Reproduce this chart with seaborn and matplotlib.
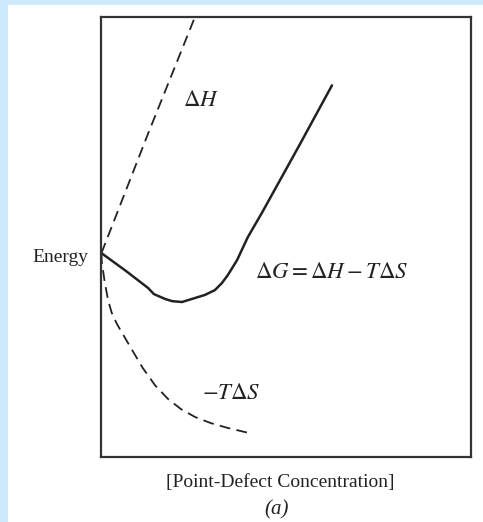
# Free energy of point-defect formation (schematic)
import numpy as np
import pandas as pd
import seaborn as sns
import matplotlib.pyplot as plt
from matplotlib.patches import Rectangle

# Curve data (axes run 0..10 in both directions)
dh_x = [0.00, 1.27, 2.53]
dh_y = [4.63, 7.36, 9.99]

dg_x = [0.00, 0.64, 1.26, 1.42, 1.72, 1.91, 2.18, 2.53, 2.80, 3.07, 3.26, 3.42, 3.67, 3.96, 4.34, 5.37, 6.24]
dg_y = [4.63, 4.24, 3.84, 3.70, 3.59, 3.54, 3.52, 3.61, 3.68, 3.79, 3.95, 4.13, 4.47, 4.99, 5.54, 7.10, 8.44]

ts_x = [0.00, 0.01, 0.09, 0.18, 0.28, 0.42, 0.58, 0.83, 1.12, 1.45, 1.80, 2.15, 2.53, 2.96, 3.42, 4.02]
ts_y = [4.63, 4.43, 3.97, 3.56, 3.27, 3.02, 2.79, 2.43, 2.02, 1.63, 1.32, 1.09, 0.91, 0.77, 0.66, 0.54]

x_label = "[Point-Defect Concentration]"
y_label = "Energy"
panel_label = "(a)"

sns.set_style("white")
plt.rcParams['font.family'] = ['Liberation Serif', 'DejaVu Serif']
plt.rcParams['mathtext.fontset'] = 'stix'

ink = "#222222"

fig = plt.figure(figsize=(4.83, 5.22), dpi=100)
fig.patch.set_facecolor("#cdeafc")
fig.patches.append(Rectangle((8 / 483, 0), 1, 1 - 5 / 522, transform=fig.transFigure,
                             facecolor="white", edgecolor="none", zorder=-1))

ax = fig.add_axes([0.210, 0.1245, 0.765, 0.8436])
ax.set_facecolor("white")

dh = pd.DataFrame({"x": dh_x, "y": dh_y})
dg = pd.DataFrame({"x": dg_x, "y": dg_y})
ts = pd.DataFrame({"x": ts_x, "y": ts_y})

sns.lineplot(data=dh, x="x", y="y", sort=False, ax=ax, color=ink, lw=1.3,
             linestyle=(0, (6, 3.5)))
sns.lineplot(data=dg, x="x", y="y", sort=False, ax=ax, color=ink, lw=1.8)
sns.lineplot(data=ts, x="x", y="y", sort=False, ax=ax, color=ink, lw=1.3,
             linestyle=(0, (6, 3.5)))

ax.set_xlim(0, 10)
ax.set_ylim(0, 10)
ax.set_xticks([])
ax.set_yticks([])
for side in ax.spines.values():
    side.set_visible(True)
    side.set_linewidth(1.6)
    side.set_color("#333333")

# curve labels
ax.text(2.22, 8.1, r"$\Delta H$", fontsize=16.5, color=ink, va="center", ha="left")
ax.text(4.15, 4.2, r"$\Delta G = \Delta H - T\Delta S$", fontsize=16.5, color=ink, va="center", ha="left")
ax.text(2.72, 1.45, r"$-T\Delta S$", fontsize=16.5, color=ink, va="center", ha="left")

ax.set_ylabel(y_label, rotation=0, fontsize=14, color=ink, ha="right", va="center")
ax.yaxis.set_label_coords(-0.035, 0.454)
ax.set_xlabel(x_label, fontsize=14, color=ink, va="center")
ax.xaxis.set_label_coords(0.483, -0.057)

fig.text(0.5735, 0.023, panel_label, fontsize=15, color=ink, ha="center", va="center",
         style="italic")

plt.savefig("out.png", dpi=100, facecolor=fig.get_facecolor())
